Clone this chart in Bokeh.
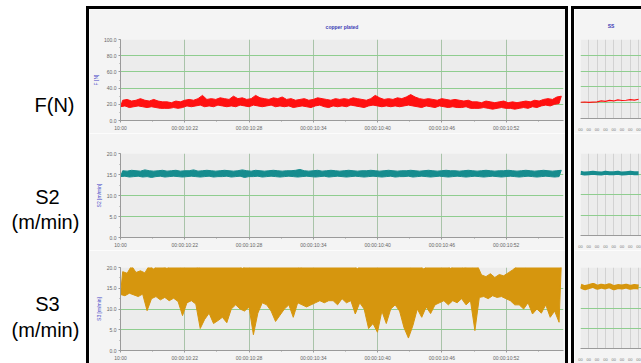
import numpy as np
from bokeh.plotting import figure
from bokeh.layouts import row, column
from bokeh.models import Label, Range1d, FixedTicker, PrintfTickFormatter, Div
from bokeh.embed import file_html
from bokeh.resources import INLINE

# ---------------- data ----------------
side_labels = ["F(N)", "S2", "(m/min)", "S3", "(m/min)"]
panel_title = "copper plated"
right_title = "SS"
y_labels = ["F [N]", "S2 [m/min]", "S3 [m/min]"]

time_ticks = [0, 1, 2, 3, 4, 5, 6]
time_tick_labels = ["10:00", "00:00:10:22", "00:00:10:28", "00:00:10:34",
                    "00:00:10:40", "00:00:10:46", "00:00:10:52"]
f_ticks = [0, 20, 40, 60, 80, 100]
s_ticks = [0, 5, 10, 15, 20]
right_ticks = [0, 1, 2, 3, 4, 5, 6, 7]
right_tick_labels = ["00", "00", "00", "00", "00", "00", "00", "00"]

# F(N): per-interval min / max of the force signal
red_hi = [25, 26, 24, 25, 27, 25, 24, 26, 24, 23,
          23, 22, 24, 23, 25, 26, 25, 27, 31, 26,
          27, 26, 28, 27, 26, 30, 27, 28, 26, 27,
          31, 28, 27, 26, 28, 27, 29, 26, 27, 25,
          26, 27, 25, 26, 28, 27, 26, 25, 27, 26,
          27, 26, 28, 27, 26, 25, 27, 31, 28, 26,
          27, 26, 28, 27, 29, 32, 29, 27, 26, 27,
          26, 25, 27, 26, 25, 26, 25, 24, 25, 23,
          23, 22, 24, 23, 22, 23, 24, 22, 23, 22,
          23, 24, 23, 25, 24, 26, 27, 26, 29, 30]
red_lo = [17, 18, 16, 17, 18, 17, 16, 17, 16, 15,
          15, 15, 16, 15, 16, 18, 17, 18, 19, 17,
          18, 17, 19, 18, 17, 18, 17, 19, 18, 17,
          19, 18, 17, 18, 19, 17, 18, 17, 18, 16,
          17, 18, 17, 16, 18, 19, 17, 16, 18, 17,
          18, 17, 19, 18, 17, 16, 18, 19, 18, 17,
          18, 17, 18, 17, 18, 19, 18, 17, 16, 18,
          17, 16, 18, 17, 16, 17, 16, 16, 17, 15,
          15, 15, 16, 15, 14, 15, 16, 15, 15, 14,
          15, 16, 15, 17, 16, 18, 19, 18, 20, 21]

# S2 (m/min)
teal_hi = [15.9, 15.8, 16.0, 15.9, 15.8, 16.1, 15.9, 15.8, 15.9, 16.0,
           15.8, 15.9, 16.0, 15.8, 15.9, 15.9, 16.1, 15.8, 15.9, 16.0,
           15.9, 15.8, 15.9, 16.0, 15.9, 15.8, 15.9, 16.1, 15.9, 15.8,
           16.0, 15.9, 15.8, 15.9, 16.0, 15.9, 15.8, 15.9, 15.9, 16.0,
           16.2, 15.9, 15.8, 15.9, 16.0, 15.8, 15.9, 16.0, 15.9, 15.8,
           15.9, 16.0, 15.9, 15.8, 15.9, 15.9, 16.0, 15.9, 15.8, 15.9,
           16.0, 15.9, 15.8, 15.9, 15.9, 16.0, 15.9, 15.8, 15.9, 16.0,
           15.9, 15.8, 15.9, 16.0, 15.9, 15.9, 15.8, 15.9, 16.0, 15.9,
           15.8, 15.9, 16.0, 15.9, 15.8, 15.9, 15.9, 16.0, 15.9, 15.8,
           15.9, 16.0, 15.9, 15.8, 15.9, 16.0, 15.9, 15.8, 15.9, 16.0]
teal_lo = [14.5, 14.6, 14.4, 14.5, 14.6, 14.4, 14.5, 14.3, 14.5, 14.6,
           14.4, 14.5, 14.6, 14.5, 14.4, 14.5, 14.6, 14.5, 14.4, 14.5,
           14.6, 14.4, 14.5, 14.5, 14.6, 14.4, 14.5, 14.6, 14.3, 14.5,
           14.5, 14.6, 14.4, 14.5, 14.6, 14.5, 14.4, 14.5, 14.6, 14.5,
           14.4, 14.5, 14.6, 14.5, 14.4, 14.5, 14.6, 14.4, 14.5, 14.6,
           14.5, 14.4, 14.5, 14.6, 14.5, 14.4, 14.5, 14.6, 14.5, 14.4,
           14.5, 14.6, 14.4, 14.5, 14.5, 14.6, 14.4, 14.5, 14.6, 14.5,
           14.4, 14.5, 14.6, 14.5, 14.4, 14.5, 14.6, 14.5, 14.4, 14.5,
           14.6, 14.5, 14.4, 14.5, 14.6, 14.5, 14.4, 14.5, 14.6, 14.5,
           14.4, 14.5, 14.6, 14.5, 14.4, 14.5, 14.6, 14.5, 14.4, 14.5]

# S3 (m/min)
gold_hi = [19.0, 18.6, 20.4, 18.8, 19.2, 18.7,
           20.5, 19.6, 20.8, 20.3, 19.8, 20.6, 20.9, 20.2, 20.7, 20.5,
           20.8, 19.9, 20.6, 20.9, 20.4,
           20.8, 20.5, 20.9, 20.3, 20.7, 20.6, 19.8, 20.5, 20.9, 20.4,
           20.8, 20.6, 20.2, 20.9, 20.5, 20.7, 20.3, 20.8, 20.6, 19.9,
           20.5, 20.8, 20.4, 20.9, 20.6, 20.3, 20.8, 20.7, 20.5, 20.9,
           20.4, 20.6, 19.7, 20.8, 20.5, 20.9, 20.6, 20.3, 20.7, 20.4,
           20.8, 20.5, 20.9, 20.6, 20.2, 20.7, 20.5, 19.6, 20.8, 20.4,
           20.9, 20.3, 20.6, 19.8, 20.5, 20.7, 19.9, 20.4, 20.2, 20.6,
           18.2, 17.8, 18.5, 17.6, 18.3, 18.0, 18.7, 19.4, 20.3, 20.6,
           20.2, 20.8, 20.5, 20.9, 20.4, 20.7, 20.6, 20.3, 20.8]
gold_lo = [13.5, 13.2, 13.8, 13.4, 13.0, 13.6,
           9.6,
           12.5, 13.0, 12.2, 12.8, 12.0, 12.6, 11.8,
           8.4,
           11.5, 12.0, 11.2,
           5.3,
           7.5, 9.0, 6.5, 7.2, 8.0,
           6.7,
           10.0, 11.0,
           10.0, 9.5, 10.5,
           3.8,
           9.0,
           11.5, 11.0,
           9.5, 7.0, 8.5, 10.0,
           11.0,
           8.0,
           11.5,
           11.0, 10.5, 11.0, 11.5,
           12.0, 11.5, 12.0,
           12.0, 11.0, 12.5, 11.5, 12.0,
           8.8,
           11.5, 10.0,
           5.3, 6.5, 4.4,
           9.5,
           6.5,
           10.0, 11.0, 9.5,
           5.5, 3.0, 6.0,
           10.0,
           8.0,
           10.5,
           8.9,
           11.0,
           11.5, 12.0, 11.0, 12.0, 11.5, 12.5, 11.0, 12.0,
           4.8,
           12.8, 13.0, 12.5, 13.2, 12.8, 13.0, 12.5,
           12.0, 11.0,
           11.0, 10.0, 11.5,
           8.8,
           10.0, 9.0, 11.0, 8.0, 9.5,
           6.8]

# second (partly visible) panel
red_r = [20.6, 20.9, 20.5, 20.8, 21.1, 22.3, 21.6, 22.9, 22.2, 23.6, 22.8, 23.1, 24.0, 23.3, 24.4]
teal_r = [15.3, 15.1, 15.2, 15.3, 15.2, 15.1, 15.3, 15.2, 15.2, 15.3, 15.1, 15.2, 15.3, 15.2, 15.2]
gold_r = [15.4, 15.0, 15.3, 15.6, 15.1, 15.4, 15.2, 15.5, 15.0, 15.3, 15.2, 15.4, 15.1, 15.3, 15.2]

# ---------------- style ----------------
X_SPAN = 6.892
RIGHT_SPAN = 7.35
RED = "#ff1010"
TEAL = "#168c8e"
GOLD = "#d6960e"
GRID_H = "#8fcd8f"
GRID_V = "#a9c3a9"
FONT = "Liberation Sans"


def band(lo, hi, span):
    """Outline of the min/max envelope: upper edge through the maxima, lower edge back through the minima."""
    n = len(lo)
    dt = span / n
    xu = [(i + 0.5) * dt for i in range(n)]
    xl = [i * dt for i in range(n)]
    return xu + xl[::-1], list(hi) + list(lo)[::-1]


def bar(w, h, c):
    return Div(width=w, height=h, margin=(0, 0, 0, 0), text="",
               styles={"background-color": c, "padding": "0px"})


def sub(h, top, bottom, ymax, yticks, yminor, ylabel, title=""):
    p = figure(width=476, height=h, x_range=Range1d(0, X_SPAN), y_range=Range1d(0, ymax),
               toolbar_location=None, output_backend="svg",
               min_border_left=26, min_border_right=2, min_border_top=top, min_border_bottom=bottom,
               background_fill_color="#ececec", border_fill_color="#f4f4f4",
               outline_line_color=None)
    p.title.text = title
    p.title.align = "center"
    p.title.text_font_size = "5px"
    p.title.text_font = FONT
    p.title.text_font_style = "bold"
    p.title.text_color = "#3c3cb4"
    p.title.standoff = 19
    xa = p.xaxis[0]
    xa.ticker = FixedTicker(ticks=time_ticks, minor_ticks=[t + 0.5 for t in time_ticks])
    xa.major_label_overrides = dict(zip(time_ticks, time_tick_labels))
    ya = p.yaxis[0]
    ya.ticker = FixedTicker(ticks=yticks, minor_ticks=yminor)
    ya.formatter = PrintfTickFormatter(format="%.1f")
    ya.axis_label = ylabel
    ya.axis_label_text_font_size = "5px"
    ya.axis_label_text_font_style = "normal"
    ya.axis_label_text_font = FONT
    ya.axis_label_text_color = "#4848c8"
    ya.axis_label_standoff = 2
    for ax in (xa, ya):
        ax.major_label_text_font_size = "5px"
        ax.major_label_text_font = FONT
        ax.major_label_text_color = "#666666"
        ax.major_label_standoff = 2
        ax.axis_line_color = "#9a9a9a"
        ax.major_tick_line_color = "#9a9a9a"
        ax.minor_tick_line_color = "#9a9a9a"
        ax.major_tick_in = 0
        ax.major_tick_out = 2
        ax.minor_tick_in = 0
        ax.minor_tick_out = 1
    p.xgrid.grid_line_color = GRID_V
    p.ygrid.grid_line_color = GRID_H
    return p


def rsub(h, top, bottom, ymax, yticks, title=""):
    p = figure(width=67, height=h, x_range=Range1d(0, RIGHT_SPAN), y_range=Range1d(0, ymax),
               toolbar_location=None, output_backend="svg", y_axis_location=None,
               min_border_left=6, min_border_right=0, min_border_top=top, min_border_bottom=bottom,
               background_fill_color="#ececec", border_fill_color="#f4f4f4",
               outline_line_color=None)
    p.title.text = title
    p.title.align = "center"
    p.title.text_font_size = "5px"
    p.title.text_font = FONT
    p.title.text_font_style = "bold"
    p.title.text_color = "#3c3cb4"
    p.title.standoff = 22
    xa = p.xaxis[0]
    xa.ticker = FixedTicker(ticks=right_ticks)
    xa.major_label_overrides = dict(zip(right_ticks, right_tick_labels))
    xa.major_label_text_font_size = "4px"
    xa.major_label_text_color = "#777777"
    xa.major_label_standoff = 3
    xa.axis_line_color = "#9a9a9a"
    xa.major_tick_line_color = None
    xa.minor_tick_line_color = None
    p.xgrid.grid_line_color = "#d2d2d2"
    p.ygrid[0].ticker = FixedTicker(ticks=yticks)
    p.ygrid.grid_line_color = GRID_H
    return p


# ---------------- left labels ----------------
lab = figure(width=86, height=363, toolbar_location=None, output_backend="svg",
             x_axis_type=None, y_axis_type=None, min_border=0,
             x_range=Range1d(0, 86), y_range=Range1d(363, 0),
             background_fill_color="white", border_fill_color="white", outline_line_color=None)
lab.grid.visible = False
label_pos = [(54, 104), (47, 196), (45, 221), (47, 303), (45, 329)]
for txt, (lx, ly) in zip(side_labels, label_pos):
    lab.add_layout(Label(x=lx, y=ly, text=txt, text_align="center", text_baseline="middle",
                         text_font_size="20px", text_font=FONT, text_color="black"))

# ---------------- main panel ----------------
f1 = sub(124, 30, 11, 100, f_ticks, list(range(0, 101, 10)), y_labels[0], panel_title)
f2 = sub(117, 20, 13, 20, s_ticks, [v * 2.5 for v in range(9)], y_labels[1])
f3 = sub(113, 17, 13, 20, s_ticks, [v * 2.5 for v in range(9)], y_labels[2])

for p, lo, hi, c in ((f1, red_lo, red_hi, RED), (f2, teal_lo, teal_hi, TEAL), (f3, gold_lo, gold_hi, GOLD)):
    xs, ys = band(lo, hi, X_SPAN)
    p.patch(xs, ys, fill_color=c, line_color=c, line_width=1, line_join="bevel")

# ---------------- second panel ----------------
g1 = rsub(124, 30, 11, 100, f_ticks, right_title)
g2 = rsub(117, 20, 13, 20, s_ticks)
g3 = rsub(113, 17, 13, 20, s_ticks)
rt = [i * 0.5 for i in range(len(red_r))]
g1.line(rt, red_r, line_color=RED, line_width=1.2)
g2.line(rt, teal_r, line_color=TEAL, line_width=4)
g3.line(rt, gold_r, line_color=GOLD, line_width=5)

mid = column(bar(482, 6, "white"),
             row(bar(3, 357, "black"),
                 column(bar(476, 3, "black"), f1, f2, f3),
                 bar(3, 357, "black")))
right = column(bar(70, 6, "white"),
               row(bar(3, 357, "black"),
                   column(bar(67, 3, "black"), g1, g2, g3)))
root = row(lab, mid, bar(3, 363, "white"), right)

open("out.html", "w").write(file_html(root, INLINE))
